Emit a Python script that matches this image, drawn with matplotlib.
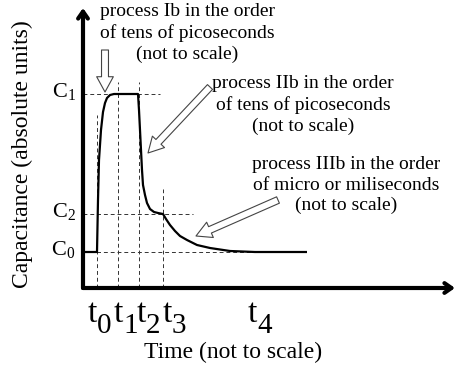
import matplotlib
matplotlib.use("Agg")
import matplotlib.pyplot as plt
from matplotlib.patches import FancyArrowPatch

plt.rcParams["font.family"] = "Liberation Serif"
plt.rcParams["mathtext.fontset"] = "custom"
plt.rcParams["mathtext.rm"] = "Liberation Serif"

# capacitance transient (arbitrary units, time not to scale)
time = [0.0, 1.4, 1.5, 1.6, 1.8, 2.0, 2.2, 2.4, 2.7, 3.1, 5.5, 5.6, 5.7, 5.8,
        5.9, 6.0, 6.2, 6.4, 6.7, 7.1, 7.5, 8.0, 8.3, 8.7, 9.2, 9.7, 10.4,
        11.4, 12.7, 14.7, 17.2, 22.4]
capacitance = [3.6, 3.6, 8.8, 12.8, 15.8, 17.6, 18.5, 19.0, 19.3, 19.4, 19.4,
               17.8, 15.8, 13.8, 11.8, 10.3, 9.3, 8.5, 7.9, 7.6, 7.5, 7.4, 6.9,
               6.3, 5.7, 5.2, 4.8, 4.3, 4.0, 3.7, 3.6, 3.6]

# characteristic levels and instants
c_levels = [19.4, 7.4, 3.6]
c_names = ["1", "2", "0"]
c_guide_end = [7.7, 11.0, 17.2]
t_marks = [1.4, 3.5, 5.6, 8.0]
t_guide_top = [17.3, 20.6, 20.6, 9.9]
t_names = ["0", "1", "2", "3", "4"]
t_label_x = [1.4, 4.0, 6.3, 8.9, 17.4]

notes = [
    "process Ib in the order\nof tens of picoseconds\n(not to scale)",
    "process IIb in the order\nof tens of picoseconds\n(not to scale)",
    "process IIIb in the order\nof micro or miliseconds\n(not to scale)",
]
note_xy = [(10.4, 28.5), (22.0, 21.3), (26.3, 13.2)]
arrow_tail = [(2.2, 23.8), (12.7, 20.1), (19.5, 8.8)]
arrow_tip = [(2.2, 19.6), (6.5, 13.5), (11.3, 5.2)]

fig = plt.figure(figsize=(4.57, 3.73), dpi=100)
ax = fig.add_axes([83 / 457, 85 / 373, 372 / 457, 280 / 373])
ax.set_xlim(0, 37.2)
ax.set_ylim(0, 28)
ax.axis("off")

# axes drawn as thick arrows
axis_arrow = dict(arrowstyle="->,head_length=0.5,head_width=0.35", lw=3,
                  color="black", shrinkA=0, shrinkB=0)
ax.annotate("", xy=(1, 0), xytext=(0, 0), xycoords="axes fraction",
            arrowprops=axis_arrow)
ax.annotate("", xy=(0, 1), xytext=(0, 0), xycoords="axes fraction",
            arrowprops=axis_arrow)

# dashed guides
for level, end in zip(c_levels, c_guide_end):
    ax.plot([0, end], [level, level], ls=(0, (4, 3)), lw=0.7, color="#333333")
for t, top in zip(t_marks, t_guide_top):
    ax.plot([t, t], [0, top], ls=(0, (4, 3)), lw=0.7, color="#333333")

ax.plot(time, capacitance, color="black", lw=1.6, solid_capstyle="butt")

# level labels
for level, name in zip(c_levels, c_names):
    ax.text(-0.75, level + 0.2, "C$_\\mathregular{%s}$" % name, fontsize=16,
            ha="right", va="center")

# time labels
for x, name in zip(t_label_x, t_names):
    ax.text(x, -3.4, "t", fontsize=24, ha="right", va="baseline")
    ax.text(x, -4.5, name, fontsize=21, ha="left", va="baseline")

ax.text(15.05, -7.0, "Time (not to scale)", fontsize=17, ha="center",
        va="baseline")
ax.text(-6.1, 13.4, "Capacitance (absolute units)", fontsize=17,
        rotation=90, ha="center", va="center")

# process notes with hollow arrows
for text, xy, tail, tip in zip(notes, note_xy, arrow_tail, arrow_tip):
    ax.text(xy[0], xy[1], text, fontsize=14, ha="center", va="top",
            linespacing=1.27)
    ax.add_patch(FancyArrowPatch(
        tail, tip, arrowstyle="simple,head_width=12,head_length=11,tail_width=5",
        mutation_scale=1, fc="white", ec="#444444", lw=0.8,
        shrinkA=0, shrinkB=0, clip_on=False))

fig.savefig("out.png", dpi=100)
